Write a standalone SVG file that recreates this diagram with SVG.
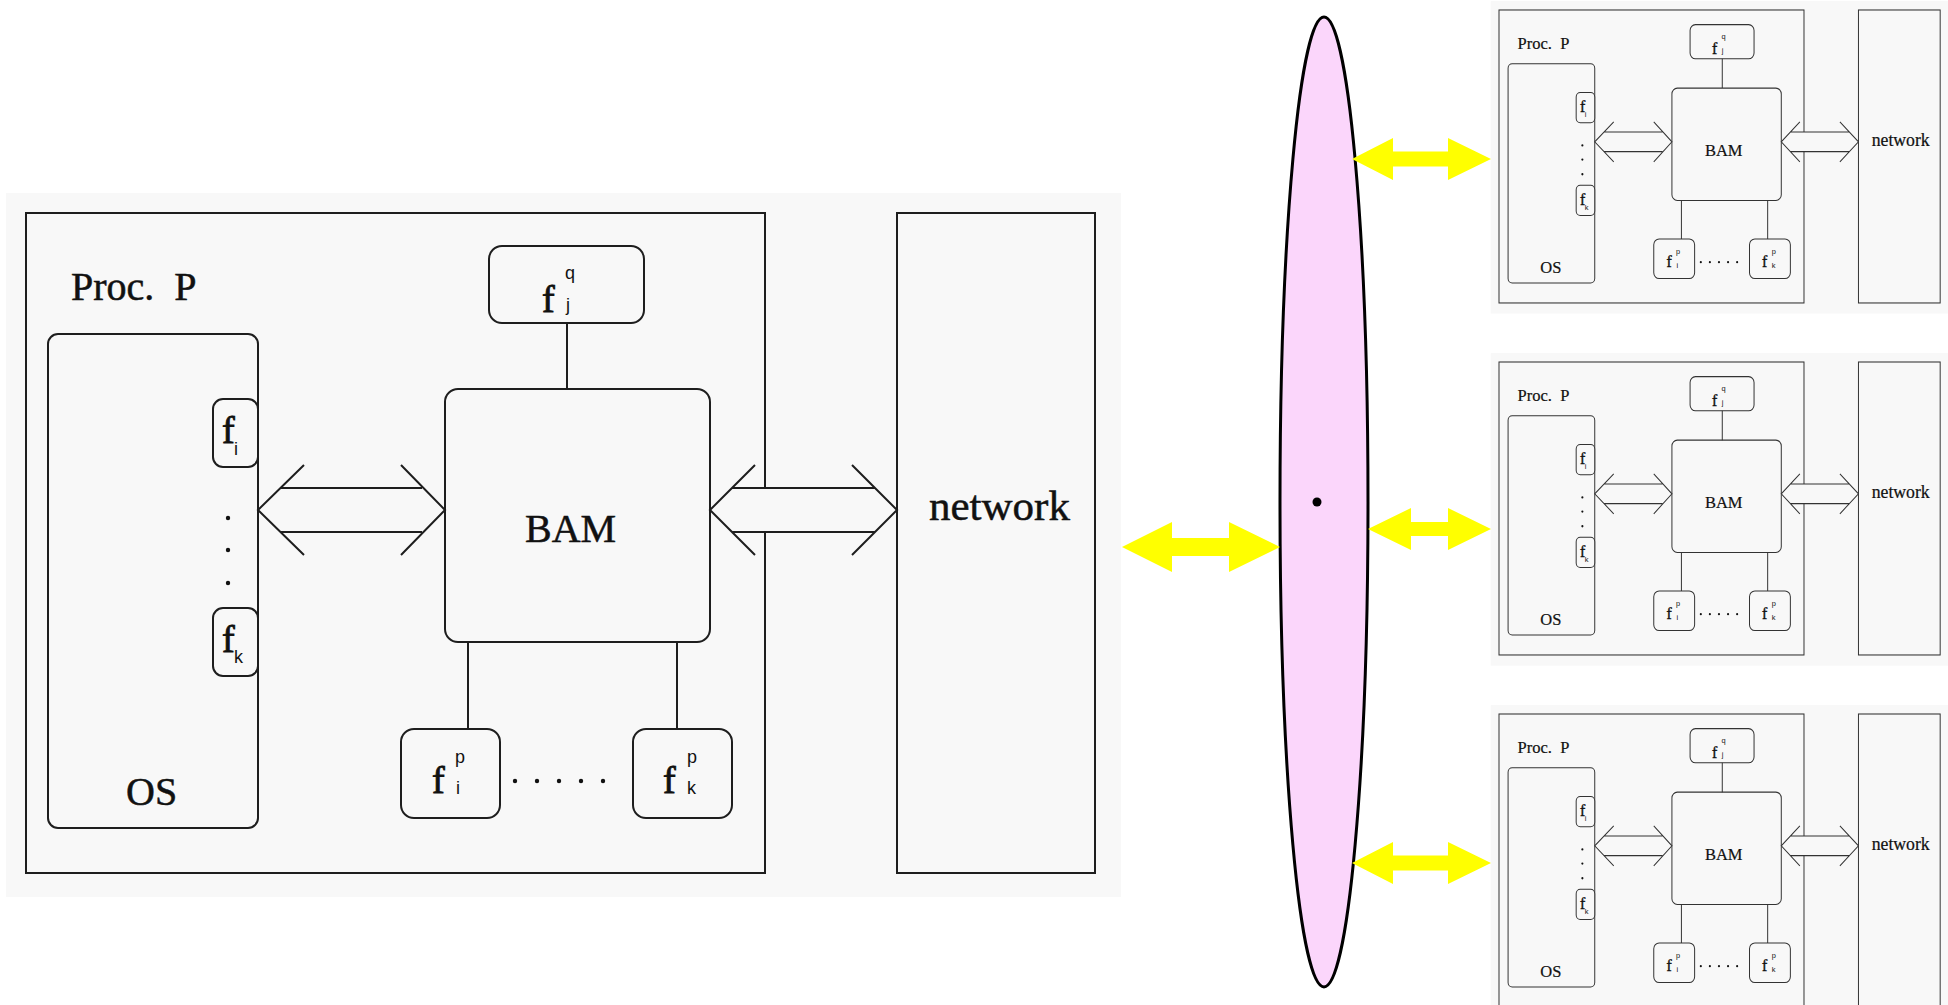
<svg xmlns="http://www.w3.org/2000/svg" width="1948" height="1005" viewBox="0 0 1948 1005">
  <style>
    .panel { fill: #f8f8f8; }
    .box { fill: none; stroke: #1e1e1e; stroke-width: 2; }
    .rbox { fill: #f8f8f8; stroke: #1e1e1e; stroke-width: 2; }
    .ln { fill: none; stroke: #1e1e1e; stroke-width: 2; }
    .bg { fill: #f8f8f8; }
    .lbl { font-family: "Liberation Serif", "Times New Roman", serif; fill: #111; stroke: #111; stroke-width: 0.5; }
    .fn { font-family: "Liberation Serif", "Times New Roman", serif; font-size: 38px; fill: #111; stroke: #111; stroke-width: 0.9; }
    .sub { font-family: "Liberation Sans", Arial, sans-serif; font-size: 18px; fill: #111; }
    .dot { fill: #111; }
    .sm .box, .sm .rbox, .sm .ln { stroke-width: 2.4; stroke: #333; }
    .yl { fill: #ffff00; }
    .bus { fill: #fbd6fb; stroke: #000; stroke-width: 3; }
  </style>

  <rect x="0" y="0" width="1948" height="1005" fill="#ffffff"/>

  <!-- main processor view -->
  <g id="proc-main">
    <g id="main-panel"><rect class="panel" x="6" y="193" width="1115" height="704"/></g>
    <g id="main-proc">
      <rect class="box" x="26" y="213" width="739" height="660"/>
      <text class="lbl" x="71" y="300" font-size="40" xml:space="preserve">Proc.  P</text>
    </g>
    <g id="main-network">
      <rect class="box" x="897" y="213" width="198" height="660"/>
      <text class="lbl" x="929" y="520" font-size="43">network</text>
    </g>
    <g id="main-os">
      <rect class="box" x="48" y="334" width="210" height="494" rx="10"/>
      <text class="lbl" x="126" y="805" font-size="40">OS</text>
      <circle class="dot" cx="228" cy="518" r="2.2"/>
      <circle class="dot" cx="228" cy="550" r="2.2"/>
      <circle class="dot" cx="228" cy="583" r="2.2"/>
    </g>
    <g id="main-fi">
      <rect class="rbox" x="213" y="399" width="45" height="68" rx="10"/>
      <text class="fn" x="222" y="443">f</text><text class="sub" x="234" y="455">i</text>
    </g>
    <g id="main-fk">
      <rect class="rbox" x="213" y="608" width="45" height="68" rx="10"/>
      <text class="fn" x="222" y="652">f</text><text class="sub" x="234" y="663">k</text>
    </g>
    <g id="main-fjq">
      <rect class="rbox" x="489" y="246" width="155" height="77" rx="13"/>
      <text class="fn" x="542" y="312">f</text><text class="sub" x="565" y="279">q</text><text class="sub" x="566" y="311">j</text>
    </g>
    <g id="main-bam">
      <rect class="rbox" x="445" y="389" width="265" height="253" rx="13"/>
      <text class="lbl" x="525" y="542" font-size="40">BAM</text>
    </g>
    <g id="main-fip">
      <rect class="rbox" x="401" y="729" width="99" height="89" rx="13"/>
      <text class="fn" x="432" y="793">f</text><text class="sub" x="455" y="763">p</text><text class="sub" x="456" y="794">i</text>
    </g>
    <g id="main-fkp">
      <rect class="rbox" x="633" y="729" width="99" height="89" rx="13"/>
      <text class="fn" x="663" y="793">f</text><text class="sub" x="687" y="763">p</text><text class="sub" x="687" y="794">k</text>
    </g>
    <g id="main-fdots">
      <circle class="dot" cx="515" cy="781" r="2.2"/><circle class="dot" cx="537" cy="781" r="2.2"/><circle class="dot" cx="559" cy="781" r="2.2"/><circle class="dot" cx="581" cy="781" r="2.2"/><circle class="dot" cx="603" cy="781" r="2.2"/>
    </g>
    <g id="main-links">
      <path class="ln" d="M567,323 V389 M468,642 V729 M677,642 V729"/>
      <polygon class="bg" points="258,510 281,488 422,488 445,510 422,532 281,532"/>
      <path class="ln" d="M304,465 L258,510 L304,555 M281,488 H422 M281,532 H422 M401,465 L445,510 L401,555"/>
      <polygon class="bg" points="710,510 732,488 875,488 897,510 875,532 732,532"/>
      <path class="ln" d="M755,465 L710,510 L755,555 M732,488 H875 M732,532 H875 M852,465 L897,510 L852,555"/>
    </g>
  </g>

  <!-- interconnect -->
  <g id="interconnect">
    <ellipse class="bus" cx="1324" cy="502" rx="44" ry="485"/>
    <circle cx="1317" cy="502" r="4.5" fill="#000"/>
  </g>

  <!-- replicated processors, scaled -->
  <g id="proc-1" class="sm" transform="translate(1488.27,-84.56) scale(0.4127,0.4439)">
    <g id="p1-panel"><rect class="panel" x="6" y="193" width="1115" height="704"/></g>
    <g id="p1-proc">
      <rect class="box" x="26" y="213" width="739" height="660"/>
      <text class="lbl" x="71" y="300" font-size="40" xml:space="preserve">Proc.  P</text>
    </g>
    <g id="p1-network">
      <rect class="box" x="897" y="213" width="198" height="660"/>
      <text class="lbl" x="929" y="520" font-size="43">network</text>
    </g>
    <g id="p1-os">
      <rect class="box" x="48" y="334" width="210" height="494" rx="10"/>
      <text class="lbl" x="126" y="805" font-size="40">OS</text>
      <circle class="dot" cx="228" cy="518" r="2.6"/>
      <circle class="dot" cx="228" cy="550" r="2.6"/>
      <circle class="dot" cx="228" cy="583" r="2.6"/>
    </g>
    <g id="p1-fi">
      <rect class="rbox" x="213" y="399" width="45" height="68" rx="10"/>
      <text class="fn" x="222" y="443">f</text><text class="sub" x="234" y="455">i</text>
    </g>
    <g id="p1-fk">
      <rect class="rbox" x="213" y="608" width="45" height="68" rx="10"/>
      <text class="fn" x="222" y="652">f</text><text class="sub" x="234" y="663">k</text>
    </g>
    <g id="p1-fjq">
      <rect class="rbox" x="489" y="246" width="155" height="77" rx="13"/>
      <text class="fn" x="542" y="312">f</text><text class="sub" x="565" y="279">q</text><text class="sub" x="566" y="311">j</text>
    </g>
    <g id="p1-bam">
      <rect class="rbox" x="445" y="389" width="265" height="253" rx="13"/>
      <text class="lbl" x="525" y="542" font-size="40">BAM</text>
    </g>
    <g id="p1-fip">
      <rect class="rbox" x="401" y="729" width="99" height="89" rx="13"/>
      <text class="fn" x="432" y="793">f</text><text class="sub" x="455" y="763">p</text><text class="sub" x="456" y="794">i</text>
    </g>
    <g id="p1-fkp">
      <rect class="rbox" x="633" y="729" width="99" height="89" rx="13"/>
      <text class="fn" x="663" y="793">f</text><text class="sub" x="687" y="763">p</text><text class="sub" x="687" y="794">k</text>
    </g>
    <g id="p1-fdots">
      <circle class="dot" cx="515" cy="781" r="2.6"/><circle class="dot" cx="537" cy="781" r="2.6"/><circle class="dot" cx="559" cy="781" r="2.6"/><circle class="dot" cx="581" cy="781" r="2.6"/><circle class="dot" cx="603" cy="781" r="2.6"/>
    </g>
    <g id="p1-links">
      <path class="ln" d="M567,323 V389 M468,642 V729 M677,642 V729"/>
      <polygon class="bg" points="258,510 281,488 422,488 445,510 422,532 281,532"/>
      <path class="ln" d="M304,465 L258,510 L304,555 M281,488 H422 M281,532 H422 M401,465 L445,510 L401,555"/>
      <polygon class="bg" points="710,510 732,488 875,488 897,510 875,532 732,532"/>
      <path class="ln" d="M755,465 L710,510 L755,555 M732,488 H875 M732,532 H875 M852,465 L897,510 L852,555"/>
    </g>
  </g>

  <g id="proc-2" class="sm" transform="translate(1488.27,267.45) scale(0.4127,0.4439)">
    <g id="p2-panel"><rect class="panel" x="6" y="193" width="1115" height="704"/></g>
    <g id="p2-proc">
      <rect class="box" x="26" y="213" width="739" height="660"/>
      <text class="lbl" x="71" y="300" font-size="40" xml:space="preserve">Proc.  P</text>
    </g>
    <g id="p2-network">
      <rect class="box" x="897" y="213" width="198" height="660"/>
      <text class="lbl" x="929" y="520" font-size="43">network</text>
    </g>
    <g id="p2-os">
      <rect class="box" x="48" y="334" width="210" height="494" rx="10"/>
      <text class="lbl" x="126" y="805" font-size="40">OS</text>
      <circle class="dot" cx="228" cy="518" r="2.6"/>
      <circle class="dot" cx="228" cy="550" r="2.6"/>
      <circle class="dot" cx="228" cy="583" r="2.6"/>
    </g>
    <g id="p2-fi">
      <rect class="rbox" x="213" y="399" width="45" height="68" rx="10"/>
      <text class="fn" x="222" y="443">f</text><text class="sub" x="234" y="455">i</text>
    </g>
    <g id="p2-fk">
      <rect class="rbox" x="213" y="608" width="45" height="68" rx="10"/>
      <text class="fn" x="222" y="652">f</text><text class="sub" x="234" y="663">k</text>
    </g>
    <g id="p2-fjq">
      <rect class="rbox" x="489" y="246" width="155" height="77" rx="13"/>
      <text class="fn" x="542" y="312">f</text><text class="sub" x="565" y="279">q</text><text class="sub" x="566" y="311">j</text>
    </g>
    <g id="p2-bam">
      <rect class="rbox" x="445" y="389" width="265" height="253" rx="13"/>
      <text class="lbl" x="525" y="542" font-size="40">BAM</text>
    </g>
    <g id="p2-fip">
      <rect class="rbox" x="401" y="729" width="99" height="89" rx="13"/>
      <text class="fn" x="432" y="793">f</text><text class="sub" x="455" y="763">p</text><text class="sub" x="456" y="794">i</text>
    </g>
    <g id="p2-fkp">
      <rect class="rbox" x="633" y="729" width="99" height="89" rx="13"/>
      <text class="fn" x="663" y="793">f</text><text class="sub" x="687" y="763">p</text><text class="sub" x="687" y="794">k</text>
    </g>
    <g id="p2-fdots">
      <circle class="dot" cx="515" cy="781" r="2.6"/><circle class="dot" cx="537" cy="781" r="2.6"/><circle class="dot" cx="559" cy="781" r="2.6"/><circle class="dot" cx="581" cy="781" r="2.6"/><circle class="dot" cx="603" cy="781" r="2.6"/>
    </g>
    <g id="p2-links">
      <path class="ln" d="M567,323 V389 M468,642 V729 M677,642 V729"/>
      <polygon class="bg" points="258,510 281,488 422,488 445,510 422,532 281,532"/>
      <path class="ln" d="M304,465 L258,510 L304,555 M281,488 H422 M281,532 H422 M401,465 L445,510 L401,555"/>
      <polygon class="bg" points="710,510 732,488 875,488 897,510 875,532 732,532"/>
      <path class="ln" d="M755,465 L710,510 L755,555 M732,488 H875 M732,532 H875 M852,465 L897,510 L852,555"/>
    </g>
  </g>

  <g id="proc-3" class="sm" transform="translate(1488.27,619.45) scale(0.4127,0.4439)">
    <g id="p3-panel"><rect class="panel" x="6" y="193" width="1115" height="704"/></g>
    <g id="p3-proc">
      <rect class="box" x="26" y="213" width="739" height="660"/>
      <text class="lbl" x="71" y="300" font-size="40" xml:space="preserve">Proc.  P</text>
    </g>
    <g id="p3-network">
      <rect class="box" x="897" y="213" width="198" height="660"/>
      <text class="lbl" x="929" y="520" font-size="43">network</text>
    </g>
    <g id="p3-os">
      <rect class="box" x="48" y="334" width="210" height="494" rx="10"/>
      <text class="lbl" x="126" y="805" font-size="40">OS</text>
      <circle class="dot" cx="228" cy="518" r="2.6"/>
      <circle class="dot" cx="228" cy="550" r="2.6"/>
      <circle class="dot" cx="228" cy="583" r="2.6"/>
    </g>
    <g id="p3-fi">
      <rect class="rbox" x="213" y="399" width="45" height="68" rx="10"/>
      <text class="fn" x="222" y="443">f</text><text class="sub" x="234" y="455">i</text>
    </g>
    <g id="p3-fk">
      <rect class="rbox" x="213" y="608" width="45" height="68" rx="10"/>
      <text class="fn" x="222" y="652">f</text><text class="sub" x="234" y="663">k</text>
    </g>
    <g id="p3-fjq">
      <rect class="rbox" x="489" y="246" width="155" height="77" rx="13"/>
      <text class="fn" x="542" y="312">f</text><text class="sub" x="565" y="279">q</text><text class="sub" x="566" y="311">j</text>
    </g>
    <g id="p3-bam">
      <rect class="rbox" x="445" y="389" width="265" height="253" rx="13"/>
      <text class="lbl" x="525" y="542" font-size="40">BAM</text>
    </g>
    <g id="p3-fip">
      <rect class="rbox" x="401" y="729" width="99" height="89" rx="13"/>
      <text class="fn" x="432" y="793">f</text><text class="sub" x="455" y="763">p</text><text class="sub" x="456" y="794">i</text>
    </g>
    <g id="p3-fkp">
      <rect class="rbox" x="633" y="729" width="99" height="89" rx="13"/>
      <text class="fn" x="663" y="793">f</text><text class="sub" x="687" y="763">p</text><text class="sub" x="687" y="794">k</text>
    </g>
    <g id="p3-fdots">
      <circle class="dot" cx="515" cy="781" r="2.6"/><circle class="dot" cx="537" cy="781" r="2.6"/><circle class="dot" cx="559" cy="781" r="2.6"/><circle class="dot" cx="581" cy="781" r="2.6"/><circle class="dot" cx="603" cy="781" r="2.6"/>
    </g>
    <g id="p3-links">
      <path class="ln" d="M567,323 V389 M468,642 V729 M677,642 V729"/>
      <polygon class="bg" points="258,510 281,488 422,488 445,510 422,532 281,532"/>
      <path class="ln" d="M304,465 L258,510 L304,555 M281,488 H422 M281,532 H422 M401,465 L445,510 L401,555"/>
      <polygon class="bg" points="710,510 732,488 875,488 897,510 875,532 732,532"/>
      <path class="ln" d="M755,465 L710,510 L755,555 M732,488 H875 M732,532 H875 M852,465 L897,510 L852,555"/>
    </g>
  </g>

  <!-- yellow double arrows to the interconnect -->
  <g id="bus-links">
    <polygon class="yl" points="1122,547 1172,522 1172,538 1229,538 1229,522 1280,547 1229,572 1229,556 1172,556 1172,572"/>
    <polygon class="yl" points="1352,159 1393,138 1393,151.5 1448,151.5 1448,138 1491,159 1448,180 1448,166.5 1393,166.5 1393,180"/>
    <polygon class="yl" points="1368,529 1411,508 1411,522 1448,522 1448,508 1491,529 1448,550 1448,536 1411,536 1411,550"/>
    <polygon class="yl" points="1352,863 1393,842 1393,855.5 1448,855.5 1448,842 1491,863 1448,884 1448,870.5 1393,870.5 1393,884"/>
  </g>
</svg>
